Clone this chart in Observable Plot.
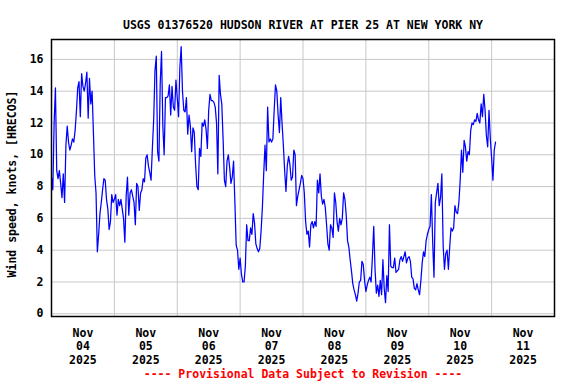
<!DOCTYPE html>
<html><head><meta charset="utf-8">
<script src="https://cdn.jsdelivr.net/npm/d3@7"></script>
<script src="https://cdn.jsdelivr.net/npm/@observablehq/plot@0.6"></script>
<style>
html,body{margin:0;padding:0;background:#fff;}
</style>
</head><body><div id="chart"></div>
<script>
const title = "USGS 01376520 HUDSON RIVER AT PIER 25 AT NEW YORK NY";
const yLabel = "Wind speed, knots, [HRECOS]";
const caption = "---- Provisional Data Subject to Revision ----";
const startTime = "2025-11-04T00:00:00Z";
const stepMinutes = 30;

// half-hourly wind speed (knots)
const nov04 = [8.6,7.8,12.0,14.2,9.0,8.5,9.0,8.2,7.3,8.8,7.0,10.6,11.8,10.8,10.3,10.6,11.0,10.8,11.5,12.7,14.2,14.6,12.4,15.1,14.3,14.0,14.5,15.2,12.3,14.8,13.2,14.0,11.4,8.7,7.6,3.9,5.0,6.3,7.0,7.8,8.5,8.4,7.2,6.6,5.3,5.8,7.5,7.0];
const nov05 = [7.2,7.5,6.2,7.2,6.8,7.2,6.6,6.0,4.5,7.4,8.6,6.2,7.6,7.8,7.4,7.0,5.6,8.2,8.0,6.5,7.6,7.8,8.5,8.3,9.8,10.0,9.3,8.9,8.4,10.4,12.2,15.3,16.2,10.2,9.6,14.5,16.5,11.8,10.0,13.6,13.6,13.7,14.4,12.5,14.3,13.0,12.8,14.7];
const nov06 = [13.6,12.4,15.5,16.8,14.0,12.8,12.7,13.6,11.3,12.5,11.8,10.2,11.7,11.4,9.4,8.0,7.8,10.4,9.9,12.0,11.8,12.2,11.6,10.4,12.8,13.8,13.4,13.4,13.3,13.0,12.0,8.8,15.0,13.8,13.2,11.0,8.4,8.0,9.6,10.0,9.2,8.2,8.6,9.6,7.0,4.3,4.0,2.8];
const nov07 = [3.5,2.5,2.0,2.0,3.0,5.6,4.6,4.6,5.4,5.0,6.3,5.7,4.4,4.1,3.9,4.1,5.2,6.7,8.8,10.6,9.0,13.0,10.8,11.0,10.8,11.0,12.8,14.4,14.0,12.5,11.4,13.6,12.0,10.6,9.0,7.7,9.3,9.9,9.4,8.4,8.6,10.3,10.0,6.8,7.4,7.8,8.2,8.7];
const nov08 = [8.5,7.6,5.8,5.0,5.2,4.2,5.6,5.8,5.4,5.8,5.5,8.4,7.6,8.8,7.4,6.9,7.2,6.7,5.6,4.4,4.0,5.6,5.4,4.8,7.6,7.0,5.8,5.2,6.0,5.6,6.0,7.6,7.2,6.2,4.6,4.2,3.4,2.7,1.9,1.5,1.2,0.8,1.3,2.0,2.1,3.3,3.1,2.1];
const nov09 = [1.4,1.8,2.1,2.3,2.0,3.6,5.5,2.8,1.3,1.8,1.1,2.1,1.2,3.4,1.6,0.7,2.4,1.4,5.6,3.0,2.9,2.9,3.5,2.6,2.7,2.8,3.4,3.6,3.3,3.6,3.9,3.2,3.5,3.6,3.3,2.3,2.2,1.6,1.5,1.9,1.5,1.2,2.1,3.2,3.9,3.6,4.6,5.0];
const nov10 = [5.3,5.5,7.5,4.5,2.3,7.0,7.6,8.2,6.8,7.3,8.8,4.3,2.8,3.8,4.0,2.8,4.2,5.4,5.2,5.4,6.8,6.4,6.3,7.0,8.4,10.3,8.9,10.9,10.5,9.6,10.2,10.0,11.5,12.0,11.9,12.2,12.1,12.6,12.2,12.0,13.2,12.4,13.8,12.8,11.2,10.5,12.8,11.0];
const nov11 = [9.8,8.4,10.3,10.8];

const dayTicks = ["2025-11-04","2025-11-05","2025-11-06","2025-11-07","2025-11-08","2025-11-09","2025-11-10","2025-11-11"];
const dayLabels = ["Nov\n04\n2025","Nov\n05\n2025","Nov\n06\n2025","Nov\n07\n2025","Nov\n08\n2025","Nov\n09\n2025","Nov\n10\n2025","Nov\n11\n2025"];
const yTicks = [0,2,4,6,8,10,12,14,16];

const values = [...nov04, ...nov05, ...nov06, ...nov07, ...nov08, ...nov09, ...nov10, ...nov11];
const t0 = Date.parse(startTime);
const data = values.map((v, i) => ({t: new Date(t0 + i * stepMinutes * 60000), v}));
const midnights = dayTicks.map(d => new Date(d + "T00:00:00Z"));
const noons = dayTicks.map((d, i) => ({t: new Date(d + "T12:00:00Z"), label: dayLabels[i]}));

const font = "'DejaVu Sans Mono', 'Liberation Mono', monospace";
const plot = Plot.plot({
  width: 576, height: 384,
  marginLeft: 51, marginRight: 22, marginTop: 39, marginBottom: 68,
  style: {fontFamily: font, fontSize: "11.5px", fontWeight: "bold", background: "#fff", color: "#000"},
  x: {type: "utc", axis: null, domain: [new Date("2025-11-04T00:00:00Z"), new Date("2025-11-12T00:00:00Z")]},
  y: {domain: [-0.17, 17.25]},
  marks: [
    Plot.gridY(yTicks, {stroke: "#c8c8c8", strokeOpacity: 1}),
    Plot.gridX(midnights.slice(1), {stroke: "#c8c8c8", strokeOpacity: 1}),
    Plot.line(data, {x: "t", y: "v", stroke: "#0000ff", strokeWidth: 1.25}),
    Plot.frame({stroke: "#000", strokeWidth: 1.5}),
    Plot.axisY(yTicks, {tickSize: 0, tickPadding: 8, label: null, fill: "#000", fontSize: 11.5}),
    Plot.text(noons, {x: "t", text: "label", frameAnchor: "bottom", lineAnchor: "top", dy: 11, lineHeight: 1.16, fontSize: 11.5, fill: "#000"}),
    Plot.text([title], {frameAnchor: "top", dy: -19, text: d => d, fontSize: 11.5, fill: "#000"}),
    Plot.text([yLabel], {frameAnchor: "left", textAnchor: "middle", rotate: -90, dx: -39, dy: 6, text: d => d, fontSize: 11.5, fill: "#000"}),
    Plot.text([caption], {frameAnchor: "bottom", dy: 61, text: d => d, fontSize: 11.5, fill: "#ff0000"})
  ]
});
document.getElementById("chart").appendChild(plot);
</script>
</body></html>
